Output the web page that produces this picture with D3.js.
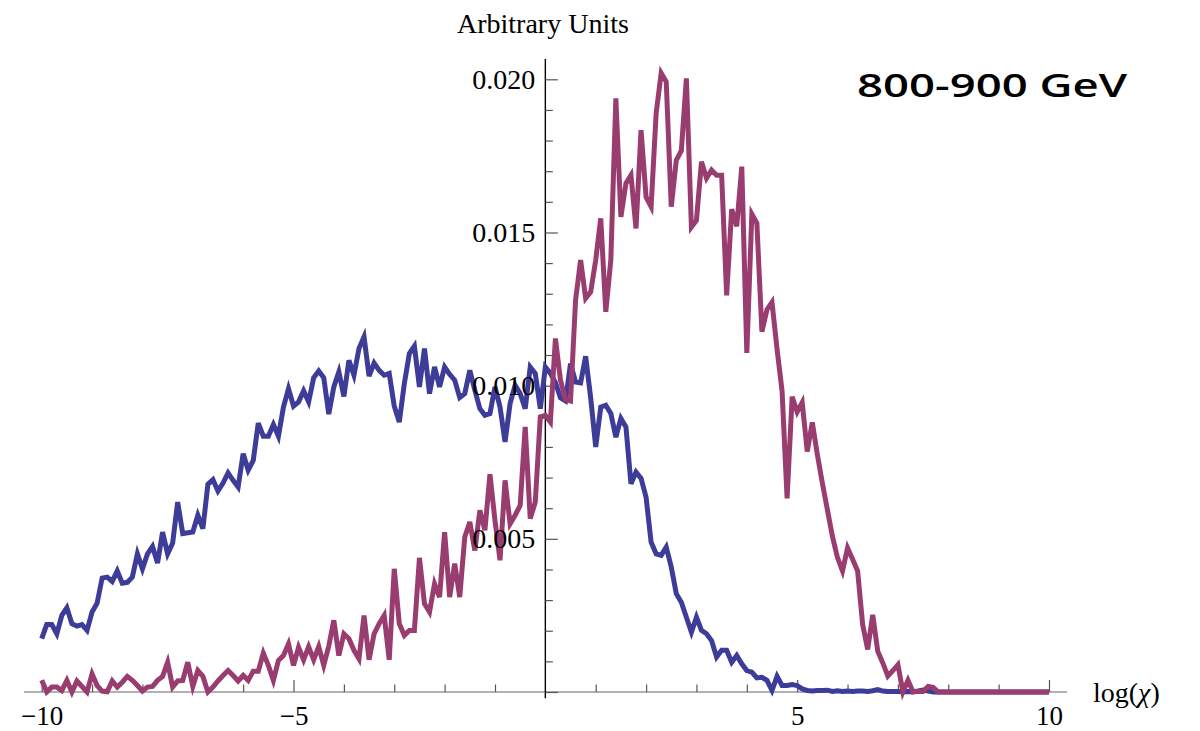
<!DOCTYPE html>
<html>
<head>
<meta charset="utf-8">
<script src="https://cdn.jsdelivr.net/npm/d3@7"></script>
<style>
  body { margin: 0; background: #fff; }
  svg text { font-family: "Liberation Serif", "Times New Roman", serif; fill: #000; }
</style>
</head>
<body>
<div id="chart"></div>
<script>
// bins of log(chi), first bin at -10, width 0.1 (201 bins up to 10)
var binStart = -10, binWidth = 0.1;

// values in units of 0.001 (arbitrary units)
var blueSeries = [
  1.74, 2.20, 2.20, 1.90, 2.50, 2.75, 2.23, 2.15, 2.20, 2.01,
  2.61, 2.90, 3.72, 3.75, 3.61, 3.95, 3.55, 3.58, 3.75, 4.51,
  4.02, 4.51, 4.75, 4.21, 5.22, 4.51, 4.86, 6.20, 5.17, 5.20,
  5.22, 5.77, 5.33, 6.78, 6.93, 6.56, 6.82, 7.15, 6.91, 6.69,
  7.78, 7.24, 7.56, 8.78, 8.35, 8.35, 8.73, 8.35, 9.30, 9.90,
  9.33, 9.47, 9.83, 9.47, 10.26, 10.48, 10.26, 9.07, 9.96, 10.45,
  9.65, 10.83, 10.34, 11.21, 11.59, 10.31, 10.74, 10.50, 10.34, 10.40,
  9.33, 8.81, 10.07, 11.05, 11.29, 9.96, 11.21, 9.74, 10.61, 9.96,
  10.61, 10.37, 10.18, 9.61, 9.74, 10.50, 9.85, 9.25, 9.03, 9.09,
  9.96, 9.30, 8.16, 9.42, 10.01, 9.74, 9.25, 10.61, 10.40, 9.25,
  10.61,
  10.40, 10.10, 9.60, 9.50, 10.72, 10.12, 10.09, 10.96, 9.60, 8.00,
  9.30, 9.36, 9.09, 8.32, 8.93, 8.65, 6.80, 7.18, 6.97, 6.36,
  4.89, 4.51, 4.46, 4.73, 4.08, 3.21, 2.93, 2.44, 1.95, 2.44,
  2.01, 1.90, 1.68, 1.14, 1.36, 1.36, 0.97, 1.19, 0.92, 0.70,
  0.65, 0.46, 0.48, 0.38, 0.05, 0.51, 0.21, 0.21, 0.24, 0.21,
  0.10, 0.05,
  0.03, 0.05, 0.05, 0.06, 0.02, 0.04, 0.02, 0.03, 0.02, 0.03,
  0.03, 0.02, 0.04, 0.08, 0.03, 0.02, 0.02, 0.02, 0.01, 0.02,
  0.01, 0.03, 0.06, 0.03, 0, 0, 0, 0, 0, 0,
  0, 0, 0, 0, 0, 0, 0, 0, 0, 0,
  0, 0, 0, 0, 0, 0, 0, 0
];

var redSeries = [
  0.38, 0, 0.16, 0.16, 0.05, 0.38, 0, 0.36, 0.18, 0,
  0.59, 0.21, 0.03, 0.01, 0.36, 0.16, 0.32, 0.51, 0.38, 0.21,
  0.03, 0.16, 0.18, 0.38, 0.51, 0.97, 0.16, 0.36, 0.38, 0.97,
  0.18, 0.70, 0.51, 0, 0.16, 0.36, 0.54, 0.70, 0.54, 0.36,
  0.54, 0.38, 0.68, 0.68, 1.27, 0.87, 0.38, 1.03, 1.19, 1.57,
  0.87, 1.46, 1.05, 1.48, 1.05, 1.48, 0.87, 1.50, 2.34, 1.19,
  1.90, 1.74, 1.36, 1.08, 2.50, 1.05, 1.90, 2.23, 2.50, 1.05,
  4.02, 2.23, 1.85, 2.01, 2.01, 4.38, 2.88, 2.61, 3.53, 3.10,
  5.22, 3.10, 4.19, 3.10, 5.06, 5.55, 4.62, 5.93, 5.28, 7.11,
  5.60, 4.30, 6.91, 5.49, 5.77, 6.09, 8.65, 5.66, 6.20, 8.98,
  9.03,
  8.81, 11.54, 10.18, 9.55, 9.50, 12.79, 14.10, 12.85, 13.06, 14.10,
  15.46, 12.41, 14.10, 19.38, 15.51, 16.60, 16.87, 15.13, 18.34, 16.16,
  15.84, 18.89, 20.20, 19.92, 15.84, 17.36, 17.67, 20.03, 15.18, 15.40,
  17.31, 16.77, 17.04, 16.87, 16.87, 12.95, 15.76, 15.20, 17.15, 11.07,
  15.60, 15.30, 11.76, 12.48, 12.72, 11.20, 9.83, 6.32, 9.64, 9.14,
  9.45, 7.85, 8.80, 7.76, 6.82, 5.95, 5.08, 4.39, 3.95, 4.70,
  4.33, 3.95, 2.20, 1.39, 2.52, 1.33, 0.95, 0.52, 0.70, 0.89,
  0, 0.38, 0, 0.02, 0.02, 0.18, 0.15, 0, 0, 0,
  0, 0, 0, 0, 0, 0, 0, 0, 0, 0,
  0, 0, 0, 0, 0, 0, 0, 0, 0, 0
];

var xMajorTicks = [-10, -5, 5, 10];
var xMinorTicks = [-9, -8, -7, -6, -4, -3, -2, -1, 1, 2, 3, 4, 6, 7, 8, 9];
var yMajorTicks = [0, 5, 10, 15, 20];
var yLabelTicks = [5, 10, 15, 20];
var yMinorTicks = [1, 2, 3, 4, 6, 7, 8, 9, 11, 12, 13, 14, 16, 17, 18, 19];

var width = 1200, height = 731;

var svg = d3.select("#chart")
  .append("svg")
  .attr("width", width)
  .attr("height", height);

var x = d3.scaleLinear()
  .domain([-10, 10])
  .range([41.7, 1049]);

var y = d3.scaleLinear()
  .domain([0, 20])
  .range([692, 79.3]);

var x0 = x(0), y0 = y(0);

// axis lines
svg.append("line")
  .attr("x1", x(-10.35)).attr("x2", x(10.36))
  .attr("y1", y0).attr("y2", y0)
  .attr("stroke", "#666").attr("stroke-width", 1.2);

svg.append("line")
  .attr("x1", x0).attr("x2", x0)
  .attr("y1", y(20.66)).attr("y2", y(-0.2))
  .attr("stroke", "#000").attr("stroke-width", 1.4);

// x ticks point up into the plot
var gx = svg.append("g").attr("transform", "translate(0," + y0 + ")");
gx.append("g")
  .call(d3.axisTop(x).tickValues(xMajorTicks).tickSize(12).tickFormat(""));
gx.append("g")
  .call(d3.axisTop(x).tickValues(xMinorTicks).tickSize(7.5).tickFormat(""));
gx.append("g")
  .attr("class", "xlabels")
  .call(d3.axisBottom(x).tickValues(xMajorTicks).tickSize(0));
gx.selectAll(".domain").remove();
gx.selectAll(".tick line").attr("stroke", "#555").attr("stroke-width", 1.2);
gx.selectAll(".xlabels text")
  .attr("y", 33).attr("dy", 0)
  .style("font-size", "27px")
  .style("font-family", "Liberation Serif, serif");

// y ticks point right into the plot
var gy = svg.append("g").attr("transform", "translate(" + x0 + ",0)");
gy.append("g")
  .call(d3.axisRight(y).tickValues(yMajorTicks).tickSize(12.5).tickFormat(""));
gy.append("g")
  .call(d3.axisRight(y).tickValues(yMinorTicks).tickSize(7.5).tickFormat(""));
gy.selectAll(".domain").remove();
gy.selectAll(".tick line").attr("stroke", "#555").attr("stroke-width", 1.2);

// data lines
var line = d3.line()
  .x(function(d, i) { return x(binStart + i * binWidth); })
  .y(function(d) { return y(d); });

svg.append("path")
  .datum(blueSeries)
  .attr("d", line)
  .attr("fill", "none")
  .attr("stroke", "#3d3d99")
  .attr("stroke-width", 5);

svg.append("path")
  .datum(redSeries)
  .attr("d", line)
  .attr("fill", "none")
  .attr("stroke", "#993d71")
  .attr("stroke-width", 5);

// y labels on top of the lines
var gyl = svg.append("g")
  .attr("transform", "translate(" + x0 + ",0)")
  .call(d3.axisLeft(y).tickValues(yLabelTicks).tickSize(0).tickPadding(10)
    .tickFormat(function(d) { return (d / 1000).toFixed(3); }));
gyl.select(".domain").remove();
gyl.selectAll("text")
  .style("font-size", "28px")
  .style("font-family", "Liberation Serif, serif");

// axis titles
svg.append("text")
  .attr("x", 457)
  .attr("y", 33.3)
  .style("font-size", "28px")
  .text("Arbitrary Units");

var xl = svg.append("text")
  .attr("x", 1093)
  .attr("y", 701.7)
  .style("font-size", "28px");
xl.append("tspan").text("log(");
xl.append("tspan").style("font-style", "italic").text("χ");
xl.append("tspan").text(")");

svg.append("text")
  .attr("x", 857)
  .attr("y", 97.3)
  .attr("textLength", 270)
  .attr("lengthAdjust", "spacingAndGlyphs")
  .style("font-family", "Open Sans, sans-serif")
  .style("font-weight", "600")
  .style("font-size", "32px")
  .text("800-900 GeV");
</script>
</body>
</html>
